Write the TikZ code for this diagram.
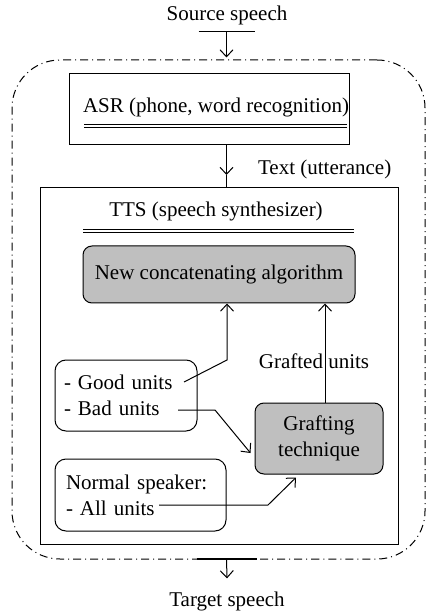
\documentclass[tikz,border=0pt]{standalone}
\usepackage{fontspec}
\setmainfont{Liberation Serif}
\usepackage{tikz}
\usetikzlibrary{arrows.meta, positioning, calc}
\tikzset{
  system/.style={
    draw, rectangle, rounded corners=24pt, line width=0.5pt,
    dash pattern=on 4pt off 2pt on 0.5pt off 2pt
  },
  plainbox/.style={
    draw, rectangle, line width=0.5pt, inner sep=0pt
  },
  graybox/.style={
    draw, rectangle, rounded corners=4.5pt, fill=black!25,
    line width=0.5pt, align=center
  },
  unitbox/.style={
    draw, rectangle, rounded corners=5.5pt, line width=0.5pt,
    align=left, inner xsep=4.5pt
  },
  arrow/.style={
    -{Straight Barb[length=3.5pt, width=6.5pt]}, line width=0.5pt
  },
  plain/.style={line width=0.5pt},
  rule/.style={line width=0.45pt}
}
\begin{document}
\begin{tikzpicture}[x=0.5pt, y=-0.5pt, font=\fontsize{10.5}{13}\selectfont]
    \useasboundingbox (0,0) rectangle (427,613);

    % outer system
    \node[system, minimum width=206.5pt, minimum height=249.5pt] (sys) at (218.5,309.5) {};

    % input / output
    \node (src) at (227,15) {Source speech};
    \coordinate (srcbar) at (226.5,32);
    \draw[plain] ([xshift=-14pt]srcbar) -- ([xshift=14pt]srcbar);
    \draw[arrow] (srcbar) -- ([yshift=1pt]srcbar |- sys.north);

    \node (tgt) at (227,601) {Target speech};
    \coordinate (tgtbar) at (226.5,559);
    \draw[line width=1.2pt] ([xshift=-15pt]tgtbar) -- ([xshift=15pt]tgtbar);
    \draw[arrow] (tgtbar) -- ([yshift=3pt]tgt.north);

    % ASR
    \node[plainbox, minimum width=140pt, minimum height=35.5pt] (asr) at (209,109.5) {};
    \node (asrlbl) at (216,107) {ASR (phone, word recognition)};
    \draw[rule] (84,124) -- (347,124);
    \draw[rule] (84,127.5) -- (347,127.5);

    % TTS
    \node[plainbox, minimum width=179pt, minimum height=178pt] (tts) at (219,366) {};
    \node (ttslbl) at (216,211) {TTS (speech synthesizer)};
    \draw[rule] (83,229) -- (354,229);
    \draw[rule] (83,232.5) -- (354,232.5);

    \coordinate (txt) at (226.5,175);
    \draw[arrow] (txt |- asr.south) -- (txt);
    \draw[plain] (txt) -- (txt |- tts.north);
    \node[anchor=west] (txtlbl) at (251,169) {Text (utterance)};

    % inside TTS
    \node[graybox, minimum width=136pt, minimum height=28.5pt] (concat) at (219,274.5) {New concatenating algorithm};
    \node[unitbox, text width=62pt, minimum height=35.5pt] (units) at (126,395.5) {- Good units\\- Bad units};
    \node[graybox, minimum width=64pt, minimum height=35.5pt, inner sep=1pt] (graft) at (319,438.5) {Grafting\\technique};
    \node[unitbox, text width=74.5pt, inner xsep=5.5pt, minimum height=36pt] (normal) at (140.5,495) {Normal speaker:\\- All units};

    \coordinate (gu) at (184,382);
    \coordinate (bu) at (178,410);
    \coordinate (au) at (159,505);

    \draw[arrow] (gu) -- (227,360) -- ([xshift=4pt]concat.south);
    \draw[arrow] (bu) -- (215,410) -- ([xshift=-2pt,yshift=-7.25pt]graft.west);
    \draw[arrow] (au) -- (268,505) -- ([xshift=-11.5pt,yshift=-1.5pt]graft.south);
    \draw[arrow] ([xshift=3pt]graft.north) -- ([xshift=3pt]graft.north |- concat.south)
      node[pos=0.42, xshift=-5.5pt] {Grafted units};
\end{tikzpicture}
\end{document}
